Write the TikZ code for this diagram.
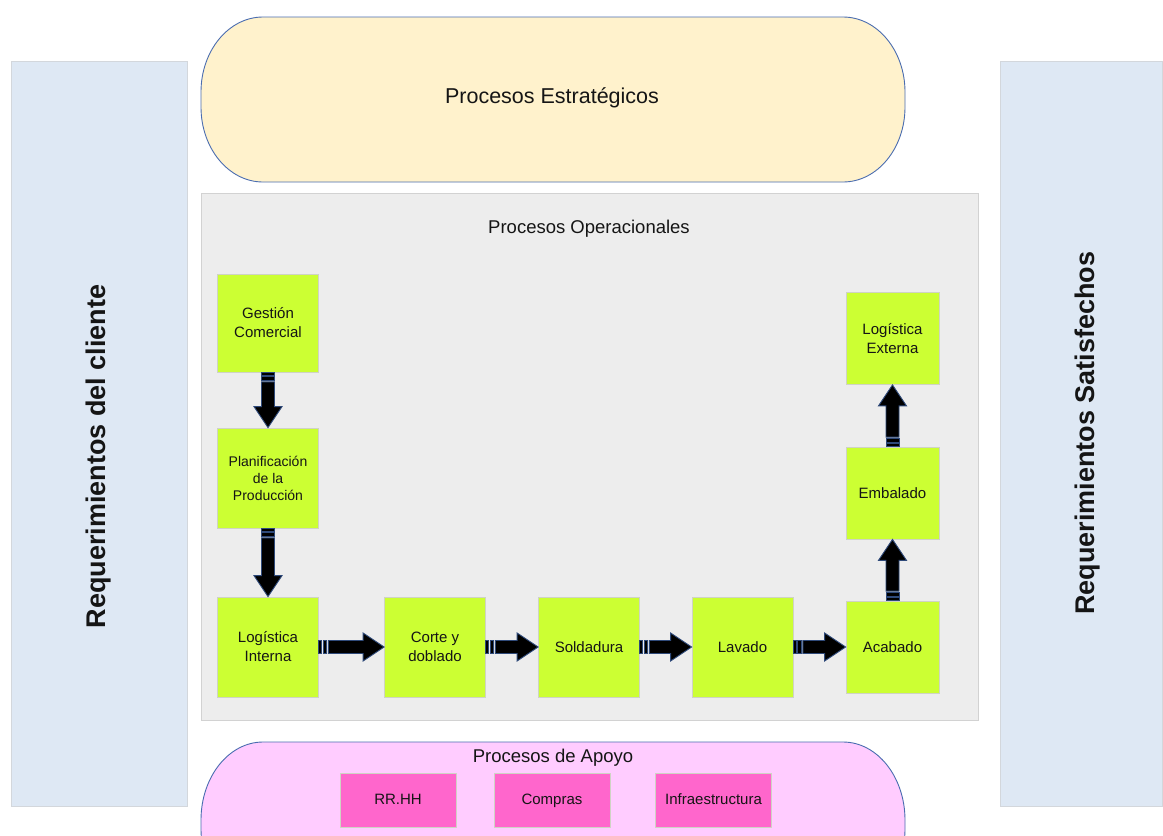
\documentclass[tikz,border=0pt]{standalone}
\usepackage{fontspec}
\setmainfont{Liberation Sans}
\usetikzlibrary{calc}

\definecolor{panelblue}{HTML}{DEE8F4}
\definecolor{panelline}{HTML}{D3D7DC}
\definecolor{stratfill}{HTML}{FFF2CC}
\definecolor{shapeline}{HTML}{4A6DB0}
\definecolor{opfill}{HTML}{EDEDED}
\definecolor{opline}{HTML}{D2D2D2}
\definecolor{lime}{HTML}{CCFF33}
\definecolor{limeline}{HTML}{CFD3C4}
\definecolor{supfill}{HTML}{FFCCFF}
\definecolor{supbox}{HTML}{FF66CC}
\definecolor{arrowline}{HTML}{2F4A7A}
\definecolor{ink}{HTML}{151515}

\tikzset{
  panel/.style={draw=panelline, fill=panelblue, line width=0.8pt, inner sep=0pt},
  sidelabel/.style={rotate=90, text=ink, inner sep=0pt,
    font=\fontsize{27}{32}\selectfont\bfseries},
  opbox/.style={draw=opline, fill=opfill, line width=0.8pt, inner sep=0pt},
  titlelabel/.style={text=ink, inner sep=0pt, font=\fontsize{18.5}{22}\selectfont},
  stepbox/.style={draw=limeline, fill=lime, line width=0.8pt, inner sep=0pt,
    align=center, text=ink, minimum width=101pt, minimum height=100pt,
    font=\fontsize{15}{19}\selectfont},
  smallstep/.style={stepbox, minimum width=93pt, minimum height=92pt},
  supportbox/.style={draw=limeline, fill=supbox, line width=0.8pt, inner sep=0pt,
    text=ink, minimum width=116pt, minimum height=54pt,
    text height=11pt, text depth=3pt,
    font=\fontsize{15}{19}\selectfont},
  arrowpart/.style={fill=black, draw=arrowline, line width=0.9pt, line join=miter},
  pics/sarrow/.style={code={%
    \pgfmathsetmacro\arrlen{#1}%
    \path[arrowpart] (0,-6.5) rectangle (3,6.5);
    \path[arrowpart] (4.5,-6.5) rectangle (8,6.5);
    \path[arrowpart] (9.5,-6.5) -- (\arrlen-21,-6.5) -- (\arrlen-21,-14)
      -- (\arrlen,0) -- (\arrlen-21,14) -- (\arrlen-21,6.5) -- (9.5,6.5) -- cycle;
  }}
}

% striped block arrow from one anchor to another
\newcommand\flowarrow[2]{%
  \path let \p1=(#1), \p2=(#2),
    \n1={atan2(\y2-\y1,\x2-\x1)}, \n2={veclen(\x2-\x1,\y2-\y1)} in
    (\p1) pic[rotate=\n1] {sarrow={\n2}};}

% rounded band with elliptical ends: style, x1, y1, x2, y2, rx, ry
\newcommand\roundband[7]{%
  \path[#1] (#2+#6,#3) -- (#4-#6,#3)
    arc[start angle=-90, end angle=0, x radius=#6, y radius=#7]
    -- (#4,#5-#7)
    arc[start angle=0, end angle=90, x radius=#6, y radius=#7]
    -- (#2+#6,#5)
    arc[start angle=90, end angle=180, x radius=#6, y radius=#7]
    -- (#2,#3+#7)
    arc[start angle=180, end angle=270, x radius=#6, y radius=#7]
    -- cycle;}

\begin{document}
\begin{tikzpicture}[x=1pt, y=-1pt]
  \useasboundingbox (0,0) rectangle (1163,836);
  \clip (0,0) rectangle (1163,836);
  \fill[white] (0,0) rectangle (1163,836);

  % side panels
  \node[panel, minimum width=176pt, minimum height=745pt] (cli) at (99,433.5) {};
  \node[sidelabel] (clit) at (99,456.5) {Requerimientos del cliente};
  \node[panel, minimum width=162pt, minimum height=745pt] (sat) at (1081,433.5) {};
  \node[sidelabel] (satt) at (1088,433) {Requerimientos Satisfechos};

  % strategic processes
  \roundband{draw=shapeline, fill=stratfill, line width=0.9pt}{201}{17}{905}{182}{62}{75}
  \node[text=ink, inner sep=0pt, font=\fontsize{21.5}{26}\selectfont] (est) at (552,98) {Procesos Estratégicos};

  % operational processes
  \node[opbox, minimum width=777pt, minimum height=527pt] (ops) at (589.5,456.5) {};
  \node[titlelabel] (opt) at (589,229) {Procesos Operacionales};

  \node[stepbox, minimum height=98pt] (gc) at (268,323) {Gestión\\Comercial};
  \node[stepbox, font=\fontsize{14}{17}\selectfont] (pp) at (268,478) {Planificación\\de la\\Producción};
  \node[stepbox] (li) at (268,647) {Logística\\Interna};
  \node[stepbox] (cd) at (435,647) {Corte y\\doblado};
  \node[stepbox] (sd) at (589,647) {Soldadura};
  \node[stepbox] (lv) at (742.5,647) {Lavado};
  \node[smallstep] (ac) at (892.5,647) {Acabado};
  \node[smallstep] (em) at (892.5,493) {Embalado};
  \node[smallstep] (le) at (892.5,338.5) {Logística\\Externa};

  \flowarrow{gc.south}{pp.north}
  \flowarrow{pp.south}{li.north}
  \flowarrow{li.east}{cd.west}
  \flowarrow{cd.east}{sd.west}
  \flowarrow{sd.east}{lv.west}
  \flowarrow{lv.east}{ac.west}
  \flowarrow{ac.north}{em.south}
  \flowarrow{em.north}{le.south}

  % support processes
  \roundband{draw=shapeline, fill=supfill, line width=0.9pt}{201}{742}{905}{907}{62}{78}
  \node[titlelabel] (apt) at (553,758) {Procesos de Apoyo};
  \node[supportbox] (rh) at (398,800) {RR.HH};
  \node[supportbox] (co) at (552,800) {Compras};
  \node[supportbox] (inf) at (713.5,800) {Infraestructura};
\end{tikzpicture}
\end{document}
